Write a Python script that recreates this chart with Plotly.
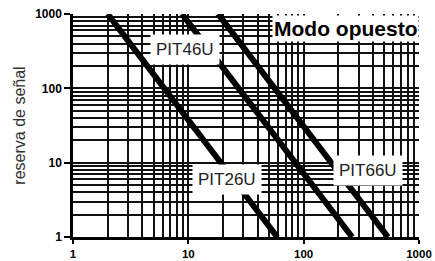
import numpy as np
import plotly.graph_objects as go

# ---- data ----
series_names = ["PIT26U", "PIT46U", "PIT66U"]
x_start = [2.0, 8.8, 18.1]       # distance at reserve = 1000
x_end = [59.0, 263.0, 537.0]     # distance at reserve = 1
y_start = [1000, 1000, 1000]
y_end = [1, 1, 1]

tick_vals = [1, 10, 100, 1000]
tick_text = ["1", "10", "100", "1000"]
y_title = "reserva de señal"
chart_title = "Modo opuesto"

minor_vals = [m * d for d in [1, 10, 100] for m in range(2, 10)]

fig = go.Figure()
for i, name in enumerate(series_names):
    fig.add_trace(go.Scatter(
        x=[x_start[i], x_end[i]], y=[y_start[i], y_end[i]],
        mode="lines", name=name,
        line=dict(color="black", width=6),
        showlegend=False, hoverinfo="skip"))

font_family = "Liberation Sans, Arial, sans-serif"

axis_common = dict(
    type="log", range=[0, 3], automargin=False,
    tickmode="array", tickvals=tick_vals, ticktext=tick_text,
    ticks="outside", tickwidth=1.5, tickcolor="black",
    showgrid=True, gridcolor="#111", gridwidth=1.6,
    showline=True, linecolor="black", linewidth=2.5,
    zeroline=False,
    minor=dict(tickmode="array", tickvals=minor_vals, showgrid=True,
               gridcolor="#111", gridwidth=1.6, ticks=""),
)

fig.update_layout(
    width=435, height=261,
    margin=dict(l=73, r=16, t=14, b=24),
    paper_bgcolor="white", plot_bgcolor="white",
    xaxis=dict(**axis_common, ticklen=4, ticklabelstandoff=0,
               tickfont=dict(family=font_family, size=11.5, color="black", weight="bold")),
    yaxis=dict(**axis_common, ticklen=6,
               tickfont=dict(family=font_family, size=12, color="black", weight="bold"),
               title=dict(text=y_title, standoff=6,
                          font=dict(family=font_family, size=16, color="#333"))),
)

# labels (positions in data units)
labels = [("PIT46U", 9.36, 328), ("PIT26U", 21.6, 5.85), ("PIT66U", 361, 7.73)]
for text, lx, ly in labels:
    fig.add_annotation(x=np.log10(lx), y=np.log10(ly), text=text, showarrow=False,
                       xref="x", yref="y",
                       font=dict(family=font_family, size=17, color="#222"),
                       bgcolor="white", borderpad=5)

fig.add_annotation(x=np.log10(1000), y=np.log10(1000), xanchor="right", yanchor="top",
                   text="<b>" + chart_title + "</b>",
                   showarrow=False, xref="x", yref="y", yshift=-1,
                   font=dict(family=font_family, size=21, color="black"),
                   bgcolor="white", borderpad=1)

fig.write_html("out.html", config={"displayModeBar": False},
               post_script="document.body.style.margin='0';document.body.style.overflow='hidden';")
